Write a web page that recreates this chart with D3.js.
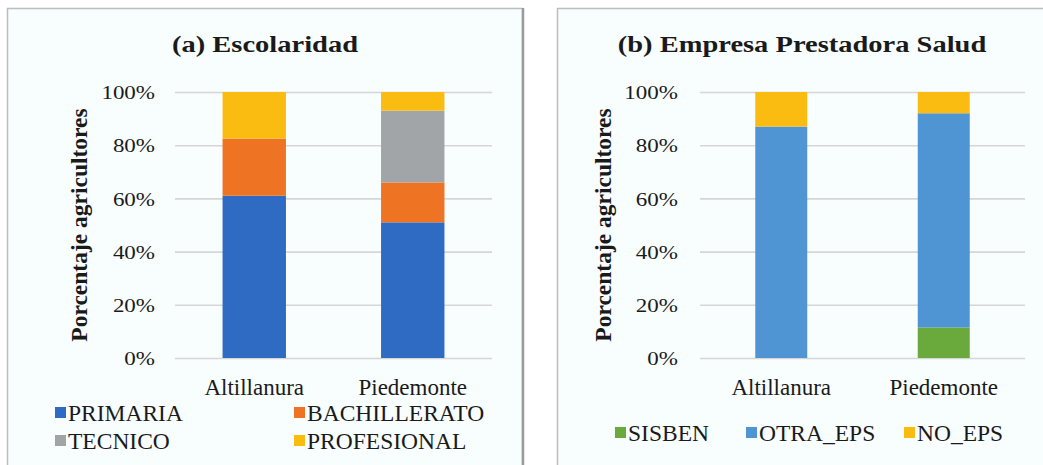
<!DOCTYPE html>
<html>
<head>
<meta charset="utf-8">
<script src="https://cdn.jsdelivr.net/npm/d3@7"></script>
<style>
  body { margin: 0; background: #ffffff; }
  svg text { font-family: "Liberation Serif", "Times New Roman", serif; fill: #1a1a1a; }
</style>
</head>
<body>
<script>
var width = 1043;
var height = 465;

// data (percent of farmers)
var categories = ["Altillanura", "Piedemonte"];
var yTicks = [0, 20, 40, 60, 80, 100];

var escolaridadSeries = ["PRIMARIA", "BACHILLERATO", "TECNICO", "PROFESIONAL"];
var escolaridadColors = ["#2f6bc3", "#ee7424", "#a2a5a8", "#fbbc12"];
var primaria = [61, 51];
var bachillerato = [21.5, 15];
var tecnico = [0, 27];
var profesional = [17.5, 7];

var saludSeries = ["SISBEN", "OTRA_EPS", "NO_EPS"];
var saludColors = ["#6aa93c", "#4f94d3", "#fbbc12"];
var sisben = [0, 11.5];
var otraEps = [87, 80.5];
var noEps = [13, 8];

var svg = d3.select("body").append("svg")
    .attr("width", width)
    .attr("height", height);

// panel frames
svg.append("rect")
    .attr("x", 7.5).attr("y", 8.5)
    .attr("width", 515).attr("height", 470)
    .attr("fill", "#f8fdfe")
    .attr("stroke", "#bdbdbd").attr("stroke-width", 1.5);
svg.append("line")
    .attr("x1", 523).attr("x2", 523).attr("y1", 8).attr("y2", height)
    .attr("stroke", "#9a9a9a").attr("stroke-width", 2.5);
svg.append("rect")
    .attr("x", 557.5).attr("y", 8.5)
    .attr("width", 520).attr("height", 470)
    .attr("fill", "#f8fdfe")
    .attr("stroke", "#bdbdbd").attr("stroke-width", 1.5);

function buildRows(names, arrays) {
  return categories.map(function(c, i) {
    var row = { cat: c };
    names.forEach(function(n, j) { row[n] = arrays[j][i]; });
    return row;
  });
}

function drawPanel(opt) {
  var x = d3.scaleBand()
      .domain(categories)
      .range([opt.x0, opt.x1])
      .paddingInner(opt.padIn)
      .paddingOuter(opt.padOut);
  var y = d3.scaleLinear().domain([0, 100]).range([358, 92]);

  var g = svg.append("g");

  // gridlines + tick labels
  var axis = g.append("g")
      .attr("transform", "translate(" + opt.x0 + ",0)")
      .call(d3.axisLeft(y).tickValues(yTicks)
        .tickSize(-(opt.x1 - opt.x0))
        .tickPadding(0)
        .tickFormat(function(d) { return d + "%"; }));
  axis.select(".domain").remove();
  axis.selectAll(".tick line").attr("stroke", "#d6d6d6").attr("stroke-width", 1.6);
  axis.selectAll(".tick text")
      .attr("x", -opt.tickGap)
      .attr("dy", "0.34em")
      .attr("transform", "scale(1,0.86)")
      .style("font-size", "23px")
      .style("font-family", "'Liberation Serif', serif")
      .attr("fill", "#1a1a1a");

  // stacked bars
  var rows = buildRows(opt.series, opt.values);
  var stacked = d3.stack().keys(opt.series)(rows);
  g.selectAll("g.layer")
    .data(stacked)
    .enter().append("g")
      .attr("class", "layer")
      .attr("fill", function(d, i) { return opt.colors[i]; })
    .selectAll("rect")
    .data(function(d) { return d; })
    .enter().append("rect")
      .attr("x", function(d) { return x(d.data.cat); })
      .attr("width", x.bandwidth())
      .attr("y", function(d) { return y(d[1]); })
      .attr("height", function(d) { return y(d[0]) - y(d[1]); });

  // category labels
  g.selectAll("text.cat")
    .data(categories)
    .enter().append("text")
      .attr("class", "cat")
      .attr("x", function(d) { return x(d) + x.bandwidth() / 2; })
      .attr("y", 395)
      .attr("text-anchor", "middle")
      .style("font-size", "23px")
      .text(function(d) { return d; });

  // title
  g.append("text")
      .attr("transform", "translate(" + opt.titleX + ",52) scale(1,0.8)")
      .attr("text-anchor", "middle")
      .style("font-size", "28.5px")
      .style("font-weight", "bold")
      .text(opt.title);

  // y axis title
  g.append("text")
      .attr("transform", "translate(" + opt.yTitleX + ",225) rotate(-90)")
      .attr("text-anchor", "middle")
      .style("font-size", "23.5px")
      .style("font-weight", "bold")
      .text("Porcentaje agricultores");

  // legend
  var leg = g.selectAll("g.leg")
    .data(opt.series)
    .enter().append("g")
      .attr("class", "leg")
      .attr("transform", function(d, i) {
        return "translate(" + opt.legX[i] + "," + opt.legY[i] + ")";
      });
  leg.append("rect")
      .attr("x", 0).attr("y", -14)
      .attr("width", 11).attr("height", 11)
      .attr("fill", function(d, i) { return opt.colors[i]; });
  leg.append("text")
      .attr("x", 13)
      .attr("y", 0)
      .style("font-size", "23.5px")
      .text(function(d) { return d; });
}

drawPanel({
  x0: 175, x1: 492, padIn: 0.6, padOut: 0.3, tickGap: 20,
  series: escolaridadSeries, colors: escolaridadColors,
  values: [primaria, bachillerato, tecnico, profesional],
  title: "(a) Escolaridad", titleX: 265, yTitleX: 87,
  legX: [55, 294, 55, 294], legY: [421, 421, 449, 449]
});

drawPanel({
  x0: 700, x1: 1025, padIn: 0.68, padOut: 0.34, tickGap: 22,
  series: saludSeries, colors: saludColors,
  values: [sisben, otraEps, noEps],
  title: "(b) Empresa Prestadora Salud", titleX: 802, yTitleX: 611,
  legX: [615, 746, 904], legY: [441, 441, 441]
});
</script>
</body>
</html>
